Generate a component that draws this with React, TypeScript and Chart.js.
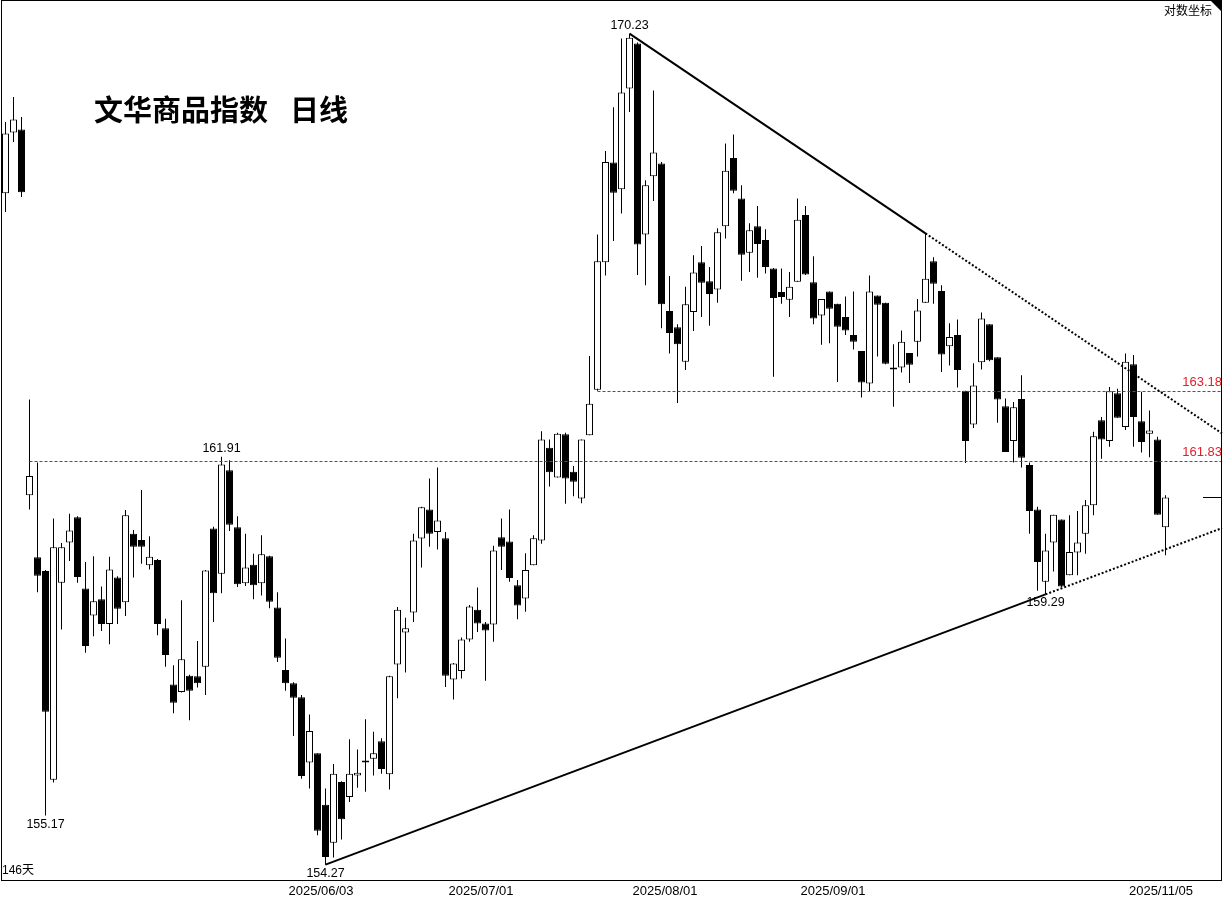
import { useEffect, useRef } from 'react';
import { Chart, registerables } from 'chart.js';

Chart.register(...registerables);

// 146 trading days, 2025/04/01 .. 2025/11/05 (index 0 = 04/01)
const open = [
  167.04, 168.25, 168.31,
  161.17, 159.99, 159.73, 155.83, 159.51, 160.27, 160.75, 159.40, 158.89, 159.20,
  158.73, 159.61, 159.14, 160.44, 160.32, 159.84, 159.94, 158.65, 157.60, 157.46,
  157.76, 157.75, 157.93, 160.54, 159.68, 161.65, 160.56, 159.50, 159.85, 159.50,
  160.01, 159.04, 157.87, 157.62, 157.36, 156.15, 156.32, 155.37, 154.67, 155.79,
  155.51, 155.91, 156.16, 156.22, 156.54, 155.93, 157.97, 158.57, 158.95, 160.35,
  160.90, 160.47, 160.35, 157.69, 157.85, 158.44, 159.00, 158.74, 158.72, 160.37,
  160.29, 159.46, 159.21, 159.84, 160.31, 162.08, 161.51, 162.34, 161.62, 161.11,
  162.32, 163.20, 165.68, 167.65, 167.12, 169.13, 170.03, 166.23, 167.38, 167.63,
  164.73, 164.41, 163.74, 164.71, 165.68, 165.31, 165.15, 166.39, 167.74, 166.94,
  165.87, 166.39, 166.12, 165.56, 165.10, 164.95, 165.30, 166.61, 165.29, 164.64,
  165.11, 164.87, 164.61, 164.26, 163.95, 163.32, 165.03, 164.89, 163.60, 163.63,
  163.91, 164.13, 164.89, 165.70, 165.12, 164.04, 164.26, 163.18, 162.53, 163.73,
  164.47, 163.83, 162.88, 162.21, 163.02, 161.75, 160.90, 159.53, 160.27, 160.71,
  159.65, 160.08, 160.44, 160.98, 162.61, 162.21, 163.13, 162.48, 163.69, 162.59,
  162.35, 162.24, 160.56,
];

const high = [
  168.46, 168.96, 168.56,
  163.01, 161.80, 159.75, 160.73, 160.26, 160.82, 160.77, 159.90, 160.01, 159.44,
  160.00, 159.63, 160.89, 160.51, 161.27, 160.39, 159.96, 158.83, 157.96, 159.18,
  157.78, 158.41, 159.75, 160.57, 161.91, 161.84, 160.77, 160.44, 160.06, 160.41,
  160.02, 159.33, 158.46, 157.64, 157.40, 157.04, 156.32, 155.67, 156.12, 155.80,
  156.58, 156.39, 156.95, 156.72, 156.60, 157.76, 159.05, 158.85, 160.44, 160.95,
  161.49, 161.70, 160.47, 158.00, 158.48, 159.09, 159.42, 158.77, 160.21, 160.73,
  160.90, 159.56, 160.07, 160.41, 162.40, 162.24, 162.37, 162.37, 161.73, 162.24,
  163.85, 166.23, 167.88, 168.75, 170.13, 170.23, 170.05, 167.30, 169.09, 167.66,
  165.41, 164.47, 165.20, 165.82, 166.00, 165.59, 166.35, 168.03, 168.21, 167.20,
  166.45, 166.79, 166.33, 165.57, 165.56, 165.49, 166.94, 166.79, 165.80, 164.96,
  165.11, 164.87, 165.01, 165.11, 163.95, 165.42, 165.03, 164.89, 164.08, 164.35,
  163.91, 164.96, 166.25, 165.78, 165.23, 164.49, 164.56, 163.18, 163.71, 164.70,
  164.47, 163.83, 163.03, 162.96, 163.48, 161.80, 160.95, 160.44, 160.80, 160.71,
  160.79, 160.87, 161.08, 162.39, 162.67, 163.25, 163.22, 163.90, 163.87, 163.16,
  162.80, 162.29, 161.17,
];

const low = [
  166.67, 168.06, 166.97,
  160.90, 159.33, 155.17, 155.78, 158.63, 159.92, 159.51, 158.19, 158.50, 158.60,
  158.35, 158.73, 158.88, 159.61, 159.87, 159.76, 158.52, 157.93, 157.06, 157.45,
  156.93, 157.54, 157.40, 158.77, 159.31, 160.49, 159.43, 159.45, 159.20, 159.27,
  159.03, 158.02, 157.48, 156.64, 155.85, 155.67, 154.81, 154.27, 154.40, 154.73,
  155.42, 155.68, 155.61, 155.91, 155.94, 155.65, 157.34, 157.82, 158.77, 159.80,
  160.19, 160.14, 157.55, 157.32, 157.71, 158.40, 158.58, 157.67, 158.40, 159.75,
  159.53, 158.82, 158.96, 159.84, 160.25, 161.34, 161.51, 161.01, 161.15, 161.02,
  162.32, 163.18, 165.42, 166.10, 166.64, 168.66, 165.43, 165.23, 166.89, 164.39,
  163.90, 162.94, 163.58, 164.34, 164.61, 164.44, 164.89, 166.15, 167.04, 165.32,
  165.49, 165.38, 165.46, 163.45, 164.87, 164.61, 165.30, 165.43, 164.47, 164.07,
  164.10, 163.35, 164.26, 163.98, 163.05, 163.17, 163.84, 163.69, 162.87, 163.53,
  163.33, 163.84, 164.89, 164.87, 163.54, 163.67, 163.24, 161.79, 162.46, 163.59,
  163.75, 162.56, 162.00, 161.80, 161.70, 160.44, 159.36, 159.29, 159.72, 159.43,
  159.65, 159.65, 160.06, 160.79, 161.87, 162.10, 162.66, 162.42, 162.10, 161.99,
  161.90, 160.80, 160.03,
];

const close = [
  168.23, 168.51, 167.06,
  161.54, 159.64, 157.09, 160.18, 160.18, 160.50, 159.62, 158.32, 159.16, 158.73,
  159.76, 159.02, 160.79, 160.19, 160.19, 160.00, 158.73, 158.15, 157.26, 158.07,
  157.48, 157.62, 159.74, 159.31, 161.76, 160.61, 159.48, 159.80, 159.46, 160.05,
  159.15, 158.10, 157.62, 157.35, 155.90, 156.73, 154.89, 154.41, 155.94, 155.10,
  155.94, 155.96, 156.15, 156.32, 156.03, 157.75, 159.00, 158.65, 160.31, 160.94,
  160.44, 160.69, 157.76, 157.99, 158.44, 159.06, 158.74, 158.61, 160.12, 160.19,
  159.60, 159.08, 159.75, 160.35, 162.24, 161.61, 162.35, 161.49, 161.43, 162.24,
  162.93, 165.70, 167.66, 167.05, 169.05, 170.15, 166.03, 167.20, 167.85, 164.86,
  164.30, 164.08, 164.86, 165.48, 165.28, 165.06, 166.27, 167.49, 167.09, 165.83,
  166.31, 166.04, 165.59, 164.98, 165.00, 165.20, 166.52, 165.44, 164.58, 164.96,
  164.77, 164.42, 164.35, 164.13, 163.34, 165.11, 164.85, 163.70, 163.59, 164.13,
  163.68, 164.74, 165.36, 165.26, 163.88, 164.22, 163.58, 162.21, 163.28, 164.58,
  163.77, 163.01, 162.00, 162.86, 161.89, 160.87, 159.90, 160.12, 160.80, 159.44,
  160.09, 160.27, 160.98, 162.30, 162.24, 163.17, 162.66, 163.74, 162.67, 162.19,
  162.41, 160.80, 161.13,
];

// date axis labels (index into the series above)
const tickIndex = [40, 60, 83, 104, 145];
const tickLabels = ['2025/06/03', '2025/07/01', '2025/08/01', '2025/09/01', '2025/11/05'];

// annotated extremes
const markHigh = [78, 27];
const markLow = [5, 40, 130];

// trend lines: pairs of candle indices (highs for upper, lows for lower)
const upperTrend = [78, 115];
const lowerTrend = [40, 130];

// horizontal levels
const levelValues = [163.18, 161.83];
const levelStart = [74, 3];

const TITLE_A = '文华商品指数';
const TITLE_B = '日线';
const DAYS_TEXT = '146天';
const LOG_TEXT = '对数坐标';

const overlay = {
  id: 'overlay',
  afterDatasetsDraw(chart: any) {
    const { ctx, chartArea, scales } = chart;
    const xs = scales.x;
    const ys = scales.y;
    const px = (i: number) => xs.getPixelForValue(i);
    const py = (v: number) => ys.getPixelForValue(v);
    const line = (x1: number, y1: number, x2: number, y2: number) => {
      ctx.beginPath();
      ctx.moveTo(x1, y1);
      ctx.lineTo(x2, y2);
      ctx.stroke();
    };
    ctx.save();

    // horizontal red levels
    ctx.strokeStyle = '#d2143f';
    ctx.lineWidth = 1;
    ctx.setLineDash([3, 2]);
    levelValues.forEach((v, j) => {
      const y = Math.round(py(v)) + 0.5;
      line(px(levelStart[j]), y, chartArea.right, y);
    });
    ctx.setLineDash([]);
    ctx.fillStyle = '#e0202c';
    ctx.font = '13px "Liberation Sans", Arial, sans-serif';
    ctx.textAlign = 'right';
    ctx.textBaseline = 'middle';
    levelValues.forEach((v) => {
      ctx.fillText(v.toFixed(2), chartArea.right, py(v) - 8);
    });

    // trend lines
    ctx.strokeStyle = '#000';
    const trend = (i1: number, v1: number, i2: number, v2: number) => {
      const x1 = px(i1), y1 = py(v1), x2 = px(i2), y2 = py(v2);
      const xr = chartArea.right;
      const yr = y1 + ((y2 - y1) * (xr - x1)) / (x2 - x1);
      ctx.lineWidth = 2;
      ctx.setLineDash([]);
      line(x1, y1, x2, y2);
      ctx.setLineDash([2, 2]);
      line(x2, y2, xr, yr);
      ctx.setLineDash([]);
    };
    trend(upperTrend[0], high[upperTrend[0]], upperTrend[1], high[upperTrend[1]]);
    trend(lowerTrend[0], low[lowerTrend[0]], lowerTrend[1], low[lowerTrend[1]]);

    // extreme labels
    ctx.fillStyle = '#000';
    ctx.font = '12.5px "Liberation Sans", Arial, sans-serif';
    ctx.textAlign = 'center';
    ctx.textBaseline = 'middle';
    markHigh.forEach((i) => ctx.fillText(high[i].toFixed(2), px(i), py(high[i]) - 8.5));
    markLow.forEach((i) => ctx.fillText(low[i].toFixed(2), px(i), py(low[i]) + 8.5));

    // last close marker
    const last = close.length - 1;
    ctx.lineWidth = 1;
    const yl = Math.round(py(close[last])) + 0.5;
    line(chartArea.right - 19, yl, chartArea.right, yl);

    // frame
    ctx.lineWidth = 1;
    ctx.strokeRect(chartArea.left + 0.5, 0.5, chartArea.right - chartArea.left - 1, chartArea.bottom);

    // corner triangle
    ctx.beginPath();
    ctx.moveTo(chartArea.right - 11, 1);
    ctx.lineTo(chartArea.right, 1);
    ctx.lineTo(chartArea.right, 12);
    ctx.closePath();
    ctx.fill();

    // texts
    ctx.textAlign = 'right';
    ctx.font = '12px "Noto Sans CJK SC", sans-serif';
    ctx.fillText(LOG_TEXT, chartArea.right - 10, 10);

    ctx.textAlign = 'left';
    ctx.font = '12px "Liberation Sans", "Noto Sans CJK SC", sans-serif';
    ctx.fillText(DAYS_TEXT, chartArea.left + 1, chartArea.bottom - 9);

    ctx.font = 'bold 29px "Noto Sans CJK SC", sans-serif';
    ctx.fillText(TITLE_A, 94, 110);
    ctx.fillText(TITLE_B, 290, 110);

    ctx.restore();
  },
};

export default function App() {
  const ref = useRef<HTMLCanvasElement | null>(null);

  useEffect(() => {
    if (!ref.current) return;
    const up = close.map((c, i) => c >= open[i]);
    const chart = new Chart(ref.current, {
      type: 'bar',
      data: {
        datasets: [
          {
            type: 'bar',
            data: open.map((o, i) => ({ x: i, y: [o, close[i]] })) as any,
            backgroundColor: up.map((u) => (u ? '#ffffff' : '#000000')),
            borderColor: '#000000',
            borderWidth: 1,
            borderSkipped: false,
            barThickness: 7,
            minBarLength: 2,
            inflateAmount: 0,
            grouped: false,
            order: 0,
          } as any,
          {
            type: 'bar',
            data: low.map((l, i) => ({ x: i, y: [l, high[i]] })) as any,
            backgroundColor: '#000000',
            borderWidth: 0,
            barThickness: 1,
            inflateAmount: 0,
            grouped: false,
            order: 1,
          } as any,
        ],
      },
      options: {
        responsive: false,
        animation: false,
        devicePixelRatio: 1,
        layout: { padding: { left: 1, right: 3, top: 1, bottom: 0 } },
        plugins: {
          legend: { display: false },
          tooltip: { enabled: false },
          title: { display: false },
        },
        scales: {
          x: {
            type: 'linear',
            min: -0.5625,
            max: 152.0625,
            offset: false,
            grid: { display: false, drawTicks: false, offset: false },
            border: { display: false },
            afterBuildTicks: (s: any) => {
              s.ticks = tickIndex.map((v) => ({ value: v }));
            },
            afterFit: (s: any) => {
              s.height = 18;
            },
            ticks: {
              autoSkip: false,
              maxRotation: 0,
              minRotation: 0,
              padding: 4,
              labelOffset: -4.5,
              color: '#000',
              font: { family: '"Liberation Sans", Arial, sans-serif', size: 13 },
              callback: (v: any) => {
                const j = tickIndex.indexOf(Number(v));
                return j >= 0 ? tickLabels[j] : '';
              },
            },
          },
          y: {
            type: 'logarithmic',
            min: 153.99,
            max: 170.89,
            display: false,
          },
        },
      } as any,
      plugins: [overlay],
    });
    return () => chart.destroy();
  }, []);

  return (
    <div style={{ position: 'absolute', left: 0, top: 0, width: 1225, height: 898, background: '#fff' }}>
      <canvas ref={ref} width={1225} height={898} style={{ display: 'block' }} />
    </div>
  );
}
